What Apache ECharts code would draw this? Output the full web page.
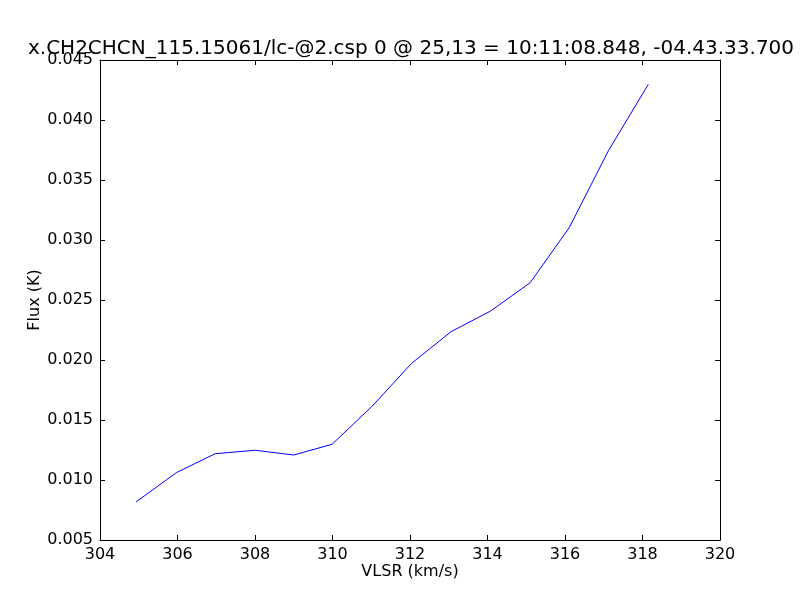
<!DOCTYPE html>
<html><head><meta charset="utf-8">
<script src="https://cdn.jsdelivr.net/npm/echarts@6/dist/echarts.min.js"></script>
<style>html,body{margin:0;padding:0;background:#fff}#c{width:800px;height:600px}</style>
</head><body><div id="c"></div>
<script>
var titleText = "x.CH2CHCN_115.15061/lc-@2.csp 0 @ 25,13 = 10:11:08.848, -04.43.33.700";
var vlsr = [304.93, 305.97, 306.97, 308.0, 309.0, 309.99, 311.03, 312.04, 313.06, 314.08, 315.1, 316.11, 317.12, 318.15];
var flux = [0.00817, 0.01061, 0.01219, 0.01248, 0.01208, 0.01298, 0.01617, 0.01972, 0.02236, 0.02408, 0.02644, 0.03103, 0.03744, 0.04297];
var xLabel = "VLSR (km/s)";
var yLabel = "Flux (K)";

var chart = echarts.init(document.getElementById('c'), null, {renderer: 'canvas'});
var font = 'DejaVu Sans';
var tickStyle = {show: true, inside: true, length: 5, lineStyle: {color: '#000', width: 1}};
var lineStyle = {show: true, lineStyle: {color: '#000', width: 1}};
chart.setOption({
  animation: false,
  backgroundColor: '#fff',
  title: {
    text: titleText, left: 406, top: 34, textAlign: 'center',
    textStyle: {fontFamily: font, fontSize: 20, fontWeight: 'normal', color: '#000'}
  },
  grid: {left: 100, right: 80, top: 60, bottom: 60, show: false},
  xAxis: [{
    type: 'value', min: 304, max: 320, interval: 2, position: 'bottom',
    name: xLabel, nameLocation: 'middle', nameGap: 24, nameMoveOverlap: false,
    nameTextStyle: {fontFamily: font, fontSize: 16, color: '#000', verticalAlign: 'top'},
    axisLine: lineStyle, axisTick: tickStyle, splitLine: {show: false},
    axisLabel: {fontFamily: font, fontSize: 16, color: '#000', margin: 7}
  }, {
    type: 'value', min: 304, max: 320, interval: 2, position: 'top',
    axisLine: lineStyle, axisTick: tickStyle, splitLine: {show: false},
    axisLabel: {show: false}
  }],
  yAxis: [{
    type: 'value', min: 0.005, max: 0.045, interval: 0.005, position: 'left',
    name: yLabel, nameLocation: 'middle', nameGap: 57, nameRotate: 90, nameMoveOverlap: false,
    nameTextStyle: {fontFamily: font, fontSize: 16, color: '#000'},
    axisLine: lineStyle, axisTick: tickStyle, splitLine: {show: false},
    axisLabel: {fontFamily: font, fontSize: 16, color: '#000', margin: 7,
      formatter: function (v) { return v.toFixed(3); }}
  }, {
    type: 'value', min: 0.005, max: 0.045, interval: 0.005, position: 'right',
    axisLine: lineStyle, axisTick: tickStyle, splitLine: {show: false},
    axisLabel: {show: false}
  }],
  series: [{
    type: 'line', xAxisIndex: 0, yAxisIndex: 0,
    data: vlsr.map(function (x, i) { return [x, flux[i]]; }),
    showSymbol: false, symbol: 'none',
    lineStyle: {color: '#0000ff', width: 1}
  }]
});
</script></body></html>
